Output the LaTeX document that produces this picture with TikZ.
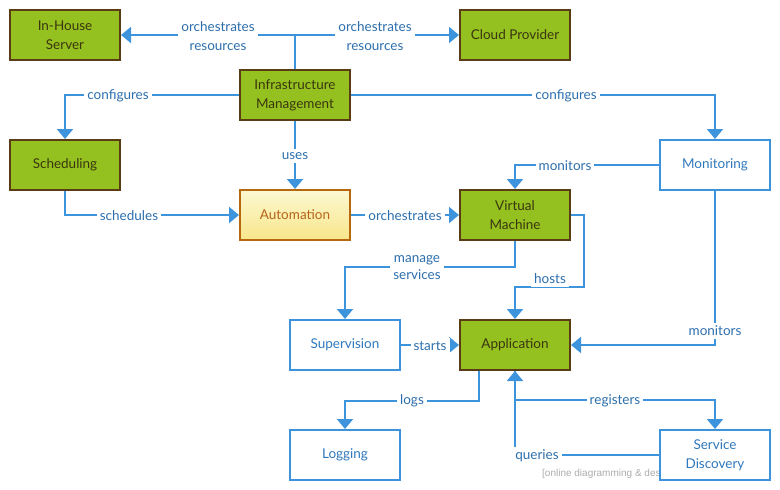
\documentclass[tikz,border=0pt]{standalone}
\usepackage{fontspec}
\setmainfont{Lato}
\newfontfamily\wmfont{Liberation Sans}
\usetikzlibrary{arrows.meta}
\definecolor{gfill}{HTML}{94C11F}
\definecolor{gborder}{HTML}{5A3D14}
\definecolor{gtext}{HTML}{3A3510}
\definecolor{cblue}{HTML}{3D94DC}
\definecolor{ltext}{HTML}{2D6FAD}
\definecolor{btext}{HTML}{2F78BC}
\definecolor{aborder}{HTML}{B8680C}
\definecolor{atext}{HTML}{B5641A}
\definecolor{atop}{HTML}{FCF8D2}
\definecolor{abot}{HTML}{F8E68A}
\tikzset{
  base/.style={minimum width=110pt, minimum height=50pt, line width=2pt, align=center, inner sep=2pt,
    font=\fontsize{13.5}{19}\selectfont},
  gbox/.style={base, draw=gborder, fill=gfill, text=gtext},
  bbox/.style={base, draw=cblue, fill=white, text=btext},
  abox/.style={base, draw=aborder, top color=atop, bottom color=abot, text=atext},
  conn/.style={draw=cblue, line width=2pt, -{Triangle[width=16pt,length=10pt]}},
  lbl/.style={fill=white, text=ltext, inner sep=3pt, align=center, font=\fontsize{13.5}{19}\selectfont},
}
\begin{document}
\begin{tikzpicture}[x=1pt,y=-1pt]
\useasboundingbox (0,0) rectangle (780,490);
\node[text=gray!65, font=\wmfont\fontsize{10}{12}\selectfont, anchor=west, inner sep=0pt] (wm) at (542,474) {[online diagramming \& design] creately.com};
\node[gbox] (ihs) at (65,35) {In-House\\Server};
\node[gbox] (cp) at (515,35) {Cloud Provider};
\node[gbox] (im) at (295,95) {Infrastructure\\Management};
\node[gbox] (sch) at (65,165) {Scheduling};
\node[abox] (auto) at (295,215) {Automation};
\node[gbox] (vm) at (515,215) {Virtual\\Machine};
\node[bbox] (mon) at (715,165) {Monitoring};
\node[bbox] (sup) at (345,345) {Supervision};
\node[gbox] (app) at (515,345) {Application};
\node[bbox] (log) at (345,455) {Logging};
\node[bbox] (sd) at (715,455) {Service\\Discovery};

\draw[conn] (im.north) |- (ihs.east);
\draw[conn] (im.north) |- (cp.west);
\draw[conn] (im.west) -| (sch.north);
\draw[conn] (im.east) -| (mon.north);
\draw[conn] (im.south) -- (auto.north);
\draw[conn] (sch.south) |- (auto.west);
\draw[conn] (auto.east) -- (vm.west);
\draw[conn] (mon.west) -| (vm.north);
\draw[conn] (vm.south) -- (515,267) -| (sup.north);
\draw[conn] (vm.east) -- (584,215) |- (515,287) -- (app.north);
\draw[conn] (sup.east) -- (app.west);
\draw[conn] (mon.south) |- (app.east);
\draw[conn] ([xshift=20pt]app.south west) -- ++(0,30) -| (log.north);
\draw[conn] (app.south) -- (515,400) -| (sd.north);
\draw[conn] (sd.west) -| (app.south);

\node[lbl] (l1) at (218,36) {orchestrates\\resources};
\node[lbl] (l2) at (375,36) {orchestrates\\resources};
\node[lbl] (l3) at (118,96) {configures};
\node[lbl] (l4) at (566,96) {configures};
\node[lbl] (l5) at (295,156) {uses};
\node[lbl] (l6) at (129,216) {schedules};
\node[lbl] (l7) at (405,216) {orchestrates};
\node[lbl] (l8) at (565,166) {monitors};
\node[lbl, font=\fontsize{13.5}{17}\selectfont] (l9) at (417,268) {manage\\services};
\node[lbl] (l10) at (550,279) {hosts};
\node[lbl] (l11) at (430,346) {starts};
\node[lbl] (l12) at (715,331) {monitors};
\node[lbl] (l13) at (412,401) {logs};
\node[lbl] (l14) at (615,401) {registers};
\node[lbl] (l15) at (537,456) {queries};
\end{tikzpicture}
\end{document}
